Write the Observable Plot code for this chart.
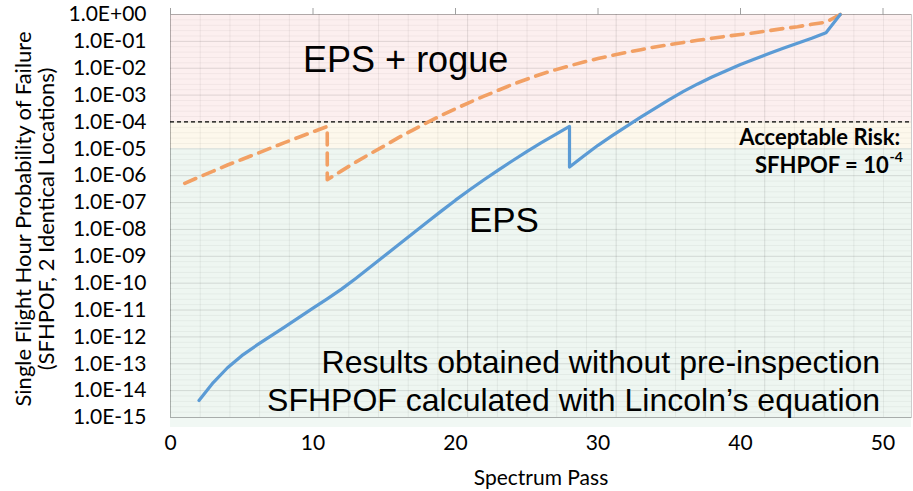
<!DOCTYPE html>
<html>
<head>
<meta charset="utf-8">
<script src="https://cdn.jsdelivr.net/npm/d3@7"></script>
<script src="https://cdn.jsdelivr.net/npm/@observablehq/plot@0.6"></script>
<style>
  html, body { margin: 0; padding: 0; background: #fff; }
  #chart { width: 913px; height: 491px; }
</style>
</head>
<body>
<div id="chart"></div>
<script>
// EPS only: single flight hour probability of failure per spectrum pass
const epsPass = [2,3,4,5,6,7,8,9,10,11,12,13,14,15,16,17,18,19,20,21,22,23,24,25,26,27,28,
                 28,29,30,31,32,33,34,35,36,37,38,39,40,41,42,43,44,45,46,47];
const epsPof = [4.3e-15,2.0e-14,7.1e-14,2.0e-13,4.7e-13,1.05e-12,2.3e-12,5.2e-12,1.17e-11,2.6e-11,
                6.0e-11,1.5e-10,3.9e-10,1.02e-9,2.7e-9,7.1e-9,1.86e-8,4.8e-8,1.23e-7,3.0e-7,
                7.1e-7,1.62e-6,3.6e-6,7.9e-6,1.66e-5,3.4e-5,6.8e-5,
                2.1e-6,5.4e-6,1.35e-5,3.1e-5,6.9e-5,1.51e-4,3.2e-4,6.8e-4,1.38e-3,2.6e-3,
                4.7e-3,8.1e-3,1.38e-2,2.2e-2,3.5e-2,5.5e-2,8.5e-2,0.13,0.21,1.0];

// EPS + rogue flaw
const roguePass = [1,2,3,4,5,6,7,8,9,10,11,
                   11,12,13,14,15,16,17,18,19,20,21,22,23,24,25,26,27,28,29,30,
                   31,32,33,34,35,36,37,38,39,40,41,42,43,44,45,46,47];
const roguePof = [5.2e-7,8.9e-7,1.48e-6,2.5e-6,4.0e-6,6.5e-6,1.05e-5,1.7e-5,2.7e-5,4.3e-5,6.8e-5,
                  7.1e-7,1.51e-6,3.2e-6,6.5e-6,1.29e-5,2.6e-5,5.0e-5,9.5e-5,1.74e-4,3.1e-4,
                  5.4e-4,9.1e-4,1.51e-3,2.5e-3,3.9e-3,6.0e-3,8.7e-3,1.23e-2,1.7e-2,2.3e-2,
                  3.0e-2,3.9e-2,4.9e-2,6.2e-2,7.6e-2,9.1e-2,0.11,0.13,0.155,0.18,0.21,
                  0.25,0.30,0.35,0.43,0.52,1.0];

const xTicks = [0, 10, 20, 30, 40, 50];
const yTicks = [1e0,1e-1,1e-2,1e-3,1e-4,1e-5,1e-6,1e-7,1e-8,1e-9,1e-10,1e-11,1e-12,1e-13,1e-14,1e-15];
const acceptableRisk = 1e-4;

// risk zones: above the limit, just below it, and safe
const bandTop = [1e0, 1e-4, 1e-5];
const bandBottom = [1e-4, 1e-5, 1e-15];

const eps = epsPass.map((pass, i) => ({pass, pof: epsPof[i]}));
const rogue = roguePass.map((pass, i) => ({pass, pof: roguePof[i]}));
const bands = bandTop.map((top, i) => ({top, bottom: bandBottom[i], zone: i}));
const bandFill = ["#fcefef", "#fdf8ec", "#eef6f1"];

// faint sheet-style texture behind the plot
const rowLines = d3.range(0, 15, 0.2).filter(k => Math.abs(k - Math.round(k)) > 1e-6).map(k => 10 ** -k);
const colStep = 2.085;
const colLines = d3.range(0, 52, colStep);

const sci = v => {
  const e = Math.round(Math.log10(v));
  return "1.0E" + (e < 0 ? "-" : "+") + String(Math.abs(e)).padStart(2, "0");
};

const sans = "'Liberation Sans', Arial, sans-serif";
const body = "Lato, 'Open Sans', sans-serif";

const chart = Plot.plot({
  width: 913,
  height: 491,
  marginLeft: 170,
  marginRight: 2,
  marginTop: 14,
  marginBottom: 74,
  style: {fontFamily: body, fontSize: "21px", color: "#000", background: "#fff"},
  x: {domain: [0, 52]},
  y: {type: "log", domain: [1e-15, 1]},
  marks: [
    Plot.rect(bands, {y1: "bottom", y2: "top", fill: d => bandFill[d.zone]}),
    Plot.rect([bandBottom[2]], {y1: d => d, y2: d => d, insetBottom: -10, fill: "#f1f8f4"}),
    Plot.ruleY(rowLines, {stroke: "#000", strokeOpacity: 0.045}),
    Plot.ruleX(colLines, {stroke: "#000", strokeOpacity: (d, i) => (i % 5 === 0 ? 0.11 : 0.06)}),
    Plot.ruleY(yTicks, {stroke: "#000", strokeOpacity: 0.12}),
    Plot.frame({stroke: "#000", strokeOpacity: 0.2}),
    Plot.ruleY([acceptableRisk], {stroke: "#000", strokeWidth: 1.3, strokeDasharray: "4,3"}),
    Plot.line(rogue, {x: "pass", y: "pof", stroke: "#f2a064", strokeWidth: 3.6, strokeDasharray: "12,8"}),
    Plot.line(eps, {x: "pass", y: "pof", stroke: "#5b9bd5", strokeWidth: 3.2}),
    Plot.text(["EPS + rogue"], {x: 16.5, y: 10 ** -1.71, fontSize: 36, fontFamily: sans}),
    Plot.text(["EPS"], {x: 23.4, y: 10 ** -7.67, fontSize: 35, fontFamily: sans}),
    Plot.text(["Results obtained without pre-inspection"], {x: 49.8, y: 10 ** -12.95, textAnchor: "end", fontSize: 32, fontFamily: sans}),
    Plot.text(["SFHPOF calculated with Lincoln\u2019s equation"], {x: 49.8, y: 10 ** -14.37, textAnchor: "end", fontSize: 32, fontFamily: sans}),
    Plot.text(["Acceptable Risk:"], {x: 51.2, y: 10 ** -4.58, textAnchor: "end", fontWeight: "bold", fontSize: 22}),
    Plot.text(["SFHPOF = 10"], {x: 50.4, y: 10 ** -5.62, textAnchor: "end", fontWeight: "bold", fontSize: 22}),
    Plot.text(["-4"], {x: 50.45, y: 10 ** -5.33, textAnchor: "start", fontWeight: "bold", fontSize: 14}),
    Plot.axisY({ticks: yTicks, tickFormat: sci, tickSize: 0, tickPadding: 24, label: null}),
    Plot.axisX({ticks: xTicks, tickSize: 0, tickPadding: 18, label: null}),
    Plot.axisX({anchor: "top", ticks: xTicks, tickSize: 7, tickFormat: () => "", label: null, stroke: "#a0a0a0"}),
    Plot.text(["Spectrum Pass"], {frameAnchor: "bottom", lineAnchor: "middle", dy: 61, fontSize: 21}),
    Plot.text(["Single Flight Hour Probability of Failure"], {frameAnchor: "left", textAnchor: "middle", lineAnchor: "middle", rotate: -90, dx: -147, dy: 3, fontSize: 22}),
    Plot.text(["(SFHPOF, 2 Identical Locations)"], {frameAnchor: "left", textAnchor: "middle", lineAnchor: "middle", rotate: -90, dx: -124, dy: 3, fontSize: 22})
  ]
});

document.getElementById("chart").appendChild(chart);
</script>
</body>
</html>
